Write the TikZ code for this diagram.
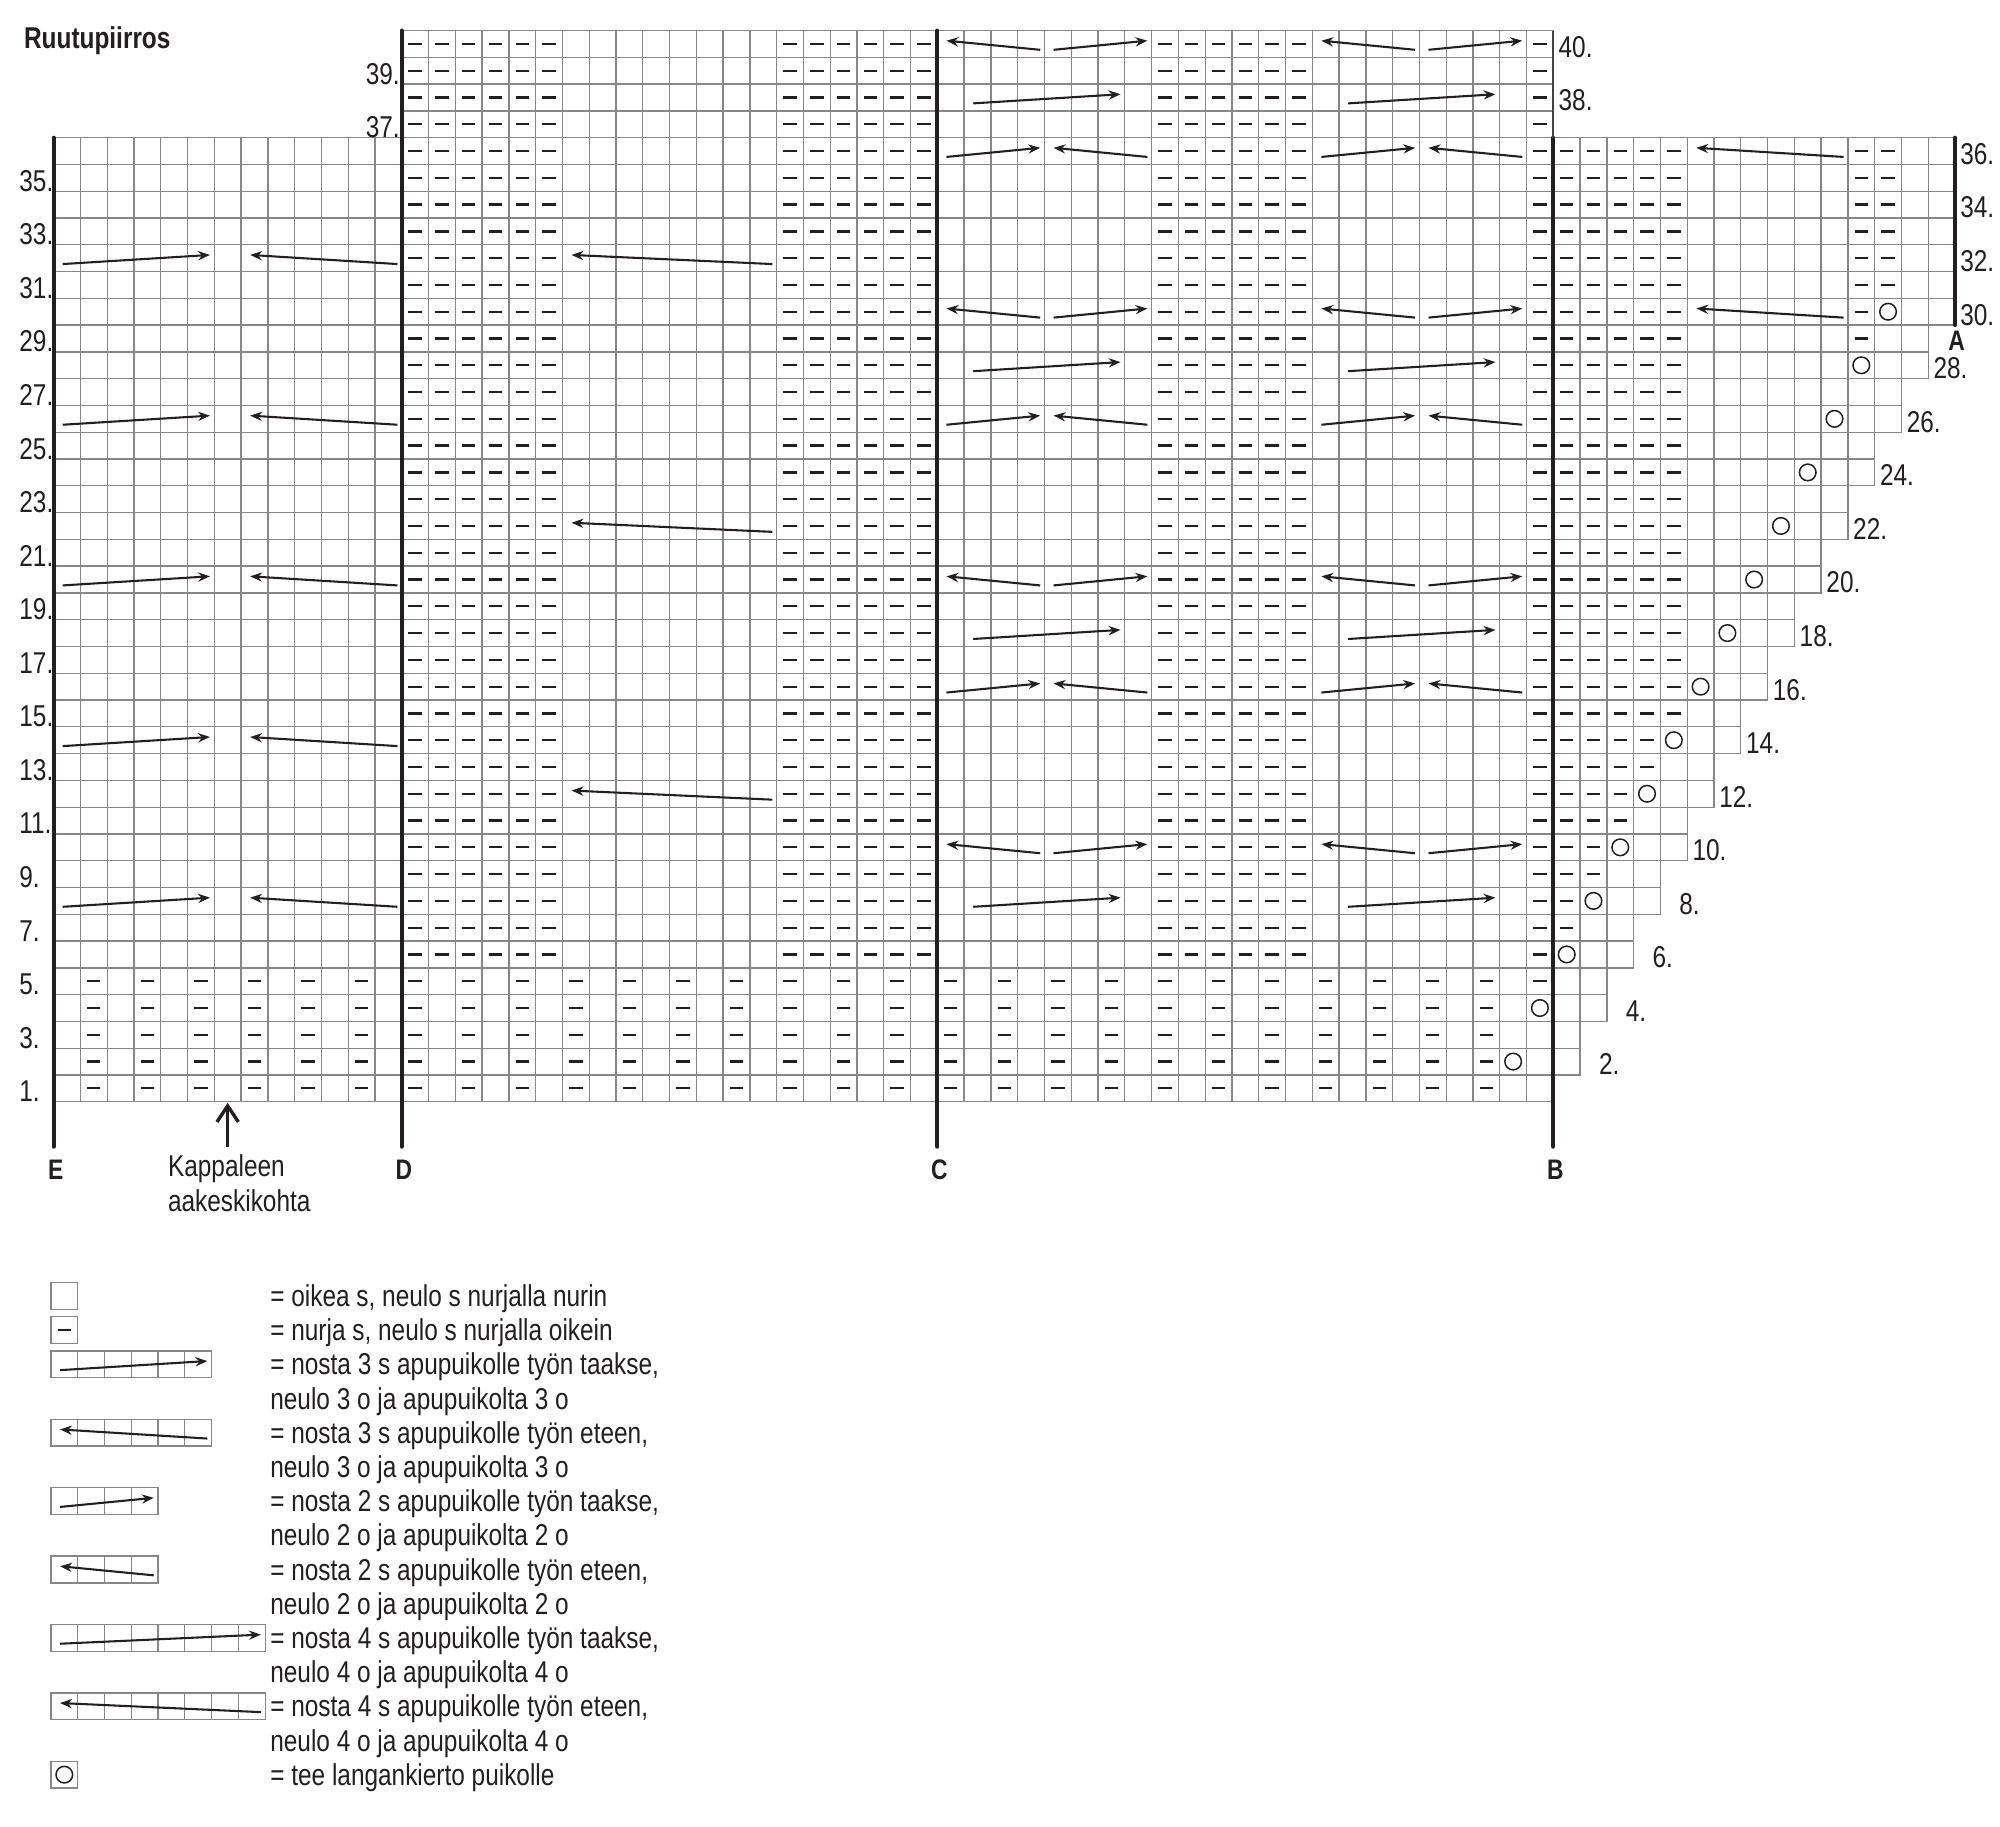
\documentclass[tikz,border=0pt]{standalone}
\usepackage{fontspec}
\setmainfont{Liberation Sans}[FakeStretch=0.81]
\usetikzlibrary{arrows.meta}

\definecolor{gridgray}{RGB}{135,135,135}
\definecolor{inkdark}{RGB}{35,31,32}

% one cell = 0.5cm, cell (c,r) has its centre at ((c-0.5)/2,(r-0.5)/2)
\newcommand{\purlmark}[2]{\draw[purl] ({((#1)-0.5)*0.5-0.125},{((#2)-0.5)*0.5}) -- ++(0.25,0);}
\newcommand{\yomark}[2]{\draw[yarnover] ({((#1)-0.5)*0.5},{((#2)-0.5)*0.5}) circle[radius=0.155];}
\newcommand{\backcable}[3]{\draw[cable] ({((#1)-1)*0.5+0.17},{((#3)-0.5)*0.5-0.11}) -- ({(#2)*0.5-0.08},{((#3)-0.5)*0.5+0.06});}
\newcommand{\frontcable}[3]{\draw[cable] ({(#2)*0.5-0.08},{((#3)-0.5)*0.5-0.11}) -- ({((#1)-1)*0.5+0.17},{((#3)-0.5)*0.5+0.06});}

\begin{document}
\begin{tikzpicture}[x=1cm, y=1cm, >=Stealth]

  % ---------- Styling ----------
  \tikzset{
    gridline/.style={draw=gridgray, line width=0.7pt},
    sectionline/.style={draw=inkdark, line width=2.1pt, line cap=round},
    purl/.style={draw=inkdark, line width=1.2pt},
    yarnover/.style={draw=inkdark, line width=0.8pt},
    cable/.style={draw=inkdark, line width=1.1pt, -{Stealth[length=0.22cm, width=0.17cm]}},
    pointer/.style={draw=inkdark, line width=1.8pt, -{Straight Barb[length=0.3cm, width=0.4cm]}},
    rowlabel/.style={font=\fontsize{16}{19}\selectfont, inner sep=0pt, text=inkdark},
    letterlabel/.style={font=\fontsize{15}{18}\selectfont\bfseries, inner sep=0pt, text=inkdark, anchor=base},
    legendtext/.style={font=\fontsize{16}{19}\selectfont, inner sep=0pt, text=inkdark, anchor=base west}
  }

  \fill[white] (-1.0007,-13.523) rectangle (36.340,20.570);
  \useasboundingbox (-1.0007,-13.523) rectangle (36.340,20.570);

  % ---------- Title ----------
  \node[legendtext, font=\fontsize{16}{19}\selectfont\bfseries] (title) at (-0.558,19.668) {Ruutupiirros};

  % ---------- Grid ----------
  \draw[gridline, step=0.5] (0,0) grid (6.5,18);
  \draw[gridline, step=0.5] (6.5,0) grid (28,20);
  \draw[gridline] (0,0) rectangle (6.5,18);
  \draw[gridline] (6.5,0) rectangle (28,20);
  % stepped edge right of B
  \foreach \k in {1,...,15} {
    \draw[gridline, step=0.5] ({27.5+0.5*\k},{\k-0.5}) grid ({28+0.5*\k},18);
    \draw[gridline] ({27.5+0.5*\k},{\k-0.5}) rectangle ({28+0.5*\k},18);
  }

  % ---------- Purl stitches ----------
  % rib, rows 1-5
  \foreach \r in {1,...,5} {
    \pgfmathtruncatemacro{\lastcol}{53+floor(\r/2)+mod(\r,2)}
    \foreach \cc in {2,4,...,56} {
      \ifnum\cc>\lastcol\relax\else\purlmark{\cc}{\r}\fi
    }
  }
  % purl panels, rows 6-40
  \foreach \r in {6,...,40} {
    \pgfmathtruncatemacro{\rowend}{\r>36 ? 56 : 71}
    \pgfmathtruncatemacro{\lastcol}{min(53+floor(\r/2)+mod(\r,2),\rowend)}
    \foreach \cc in {14,15,16,17,18,19,28,29,30,31,32,33,42,43,44,45,46,47,56,57,58,59,60,61,68,69} {
      \ifnum\cc>\lastcol\relax\else\purlmark{\cc}{\r}\fi
    }
  }

  % ---------- Yarn overs ----------
  \foreach \k in {1,...,15} {
    \yomark{54+\k}{2*\k}
  }

  % ---------- Cables ----------
  \foreach \r in {8,14,20,26,32} {
    \backcable{1}{6}{\r}
    \frontcable{8}{13}{\r}
  }
  \foreach \r in {12,22,32} {
    \frontcable{20}{27}{\r}
  }
  \foreach \s in {34,48} {
    \foreach \r in {10,20,30,40} {
      \frontcable{\s}{\s+3}{\r}
      \backcable{\s+4}{\s+7}{\r}
    }
    \foreach \r in {8,18,28,38} {
      \backcable{\s+1}{\s+6}{\r}
    }
    \foreach \r in {16,26,36} {
      \backcable{\s}{\s+3}{\r}
      \frontcable{\s+4}{\s+7}{\r}
    }
  }
  \foreach \r in {30,36} {
    \frontcable{62}{67}{\r}
  }

  % ---------- Section lines ----------
  \foreach \name/\x/\top in {E/0/18, D/6.5/20, C/16.5/20, B/28/18} {
    \draw[sectionline] (\x,-0.84) coordinate (\name bot) -- (\x,\top) coordinate (\name top);
    \node[letterlabel] (\name lbl) at (\x+0.04,-1.447) {\name};
  }
  \draw[draw=inkdark!85, line width=1.1pt] (Btop) -- (28,20);
  \draw[sectionline] (35.5,18) coordinate (Atop) -- (35.5,14.5) coordinate (Abot);
  \node[letterlabel] (Albl) at (35.53,14.035) {A};

  % ---------- Row numbers ----------
  \foreach \r in {1,3,...,35} {
    \node[rowlabel, anchor=base west] (row\r) at (-0.646,{(\r-1)*0.5}) {\r.};
  }
  \foreach \r in {37,39} {
    \node[rowlabel, anchor=base east] (row\r) at (6.47,{(\r-1)*0.5}) {\r.};
  }
  \foreach \r in {2,4,...,36} {
    \pgfmathsetmacro{\redge}{min(56+\r/2,71)*0.5}
    \node[rowlabel, anchor=base east] (row\r) at (\redge+0.74,{(\r-1)*0.5}) {\r.};
  }
  \foreach \r in {38,40} {
    \node[rowlabel, anchor=base east] (row\r) at (28.74,{(\r-1)*0.5}) {\r.};
  }

  % ---------- Centre marker ----------
  \coordinate (midtail) at (3.25,-0.84);
  \coordinate (midtip) at (3.25,-0.02);
  \draw[pointer] (midtail) -- (midtip);
  \node[legendtext] (kap1) at (2.13,-1.40) {Kappaleen};
  \node[legendtext] (kap2) at (2.13,-2.05) {aakeskikohta};

  % ---------- Legend ----------
  \def\legstep{0.6385}
  \begin{scope}[shift={(-0.05,{-3.824-0*\legstep-0.05})}]
    \draw[gridline] (0,0) rectangle (0.5,0.5);
  \end{scope}
  \begin{scope}[shift={(-0.05,{-3.824-1*\legstep-0.05})}]
    \draw[gridline] (0,0) rectangle (0.5,0.5);
    \purlmark{1}{1}
  \end{scope}
  \begin{scope}[shift={(-0.05,{-3.824-2*\legstep-0.05})}]
    \draw[gridline, step=0.5] (0,0) grid (3,0.5);
    \draw[gridline] (0,0) rectangle (3,0.5);
    \backcable{1}{6}{1}
  \end{scope}
  \begin{scope}[shift={(-0.05,{-3.824-4*\legstep-0.05})}]
    \draw[gridline, step=0.5] (0,0) grid (3,0.5);
    \draw[gridline] (0,0) rectangle (3,0.5);
    \frontcable{1}{6}{1}
  \end{scope}
  \begin{scope}[shift={(-0.05,{-3.824-6*\legstep-0.05})}]
    \draw[gridline, step=0.5] (0,0) grid (2,0.5);
    \draw[gridline] (0,0) rectangle (2,0.5);
    \backcable{1}{4}{1}
  \end{scope}
  \begin{scope}[shift={(-0.05,{-3.824-8*\legstep-0.05})}]
    \draw[gridline, step=0.5] (0,0) grid (2,0.5);
    \draw[gridline] (0,0) rectangle (2,0.5);
    \frontcable{1}{4}{1}
  \end{scope}
  \begin{scope}[shift={(-0.05,{-3.824-10*\legstep-0.05})}]
    \draw[gridline, step=0.5] (0,0) grid (4,0.5);
    \draw[gridline] (0,0) rectangle (4,0.5);
    \backcable{1}{8}{1}
  \end{scope}
  \begin{scope}[shift={(-0.05,{-3.824-12*\legstep-0.05})}]
    \draw[gridline, step=0.5] (0,0) grid (4,0.5);
    \draw[gridline] (0,0) rectangle (4,0.5);
    \frontcable{1}{8}{1}
  \end{scope}
  \begin{scope}[shift={(-0.05,{-3.824-14*\legstep-0.05})}]
    \draw[gridline] (0,0) rectangle (0.5,0.5);
    \yomark{1}{1}
  \end{scope}

  \node[legendtext] (leg0) at (4.04,{-3.824-0*\legstep}) {= oikea s, neulo s nurjalla nurin};
  \node[legendtext] (leg1) at (4.04,{-3.824-1*\legstep}) {= nurja s, neulo s nurjalla oikein};
  \node[legendtext] (leg2) at (4.04,{-3.824-2*\legstep}) {= nosta 3 s apupuikolle työn taakse,};
  \node[legendtext] (leg3) at (4.04,{-3.824-3*\legstep}) {neulo 3 o ja apupuikolta 3 o};
  \node[legendtext] (leg4) at (4.04,{-3.824-4*\legstep}) {= nosta 3 s apupuikolle työn eteen,};
  \node[legendtext] (leg5) at (4.04,{-3.824-5*\legstep}) {neulo 3 o ja apupuikolta 3 o};
  \node[legendtext] (leg6) at (4.04,{-3.824-6*\legstep}) {= nosta 2 s apupuikolle työn taakse,};
  \node[legendtext] (leg7) at (4.04,{-3.824-7*\legstep}) {neulo 2 o ja apupuikolta 2 o};
  \node[legendtext] (leg8) at (4.04,{-3.824-8*\legstep}) {= nosta 2 s apupuikolle työn eteen,};
  \node[legendtext] (leg9) at (4.04,{-3.824-9*\legstep}) {neulo 2 o ja apupuikolta 2 o};
  \node[legendtext] (leg10) at (4.04,{-3.824-10*\legstep}) {= nosta 4 s apupuikolle työn taakse,};
  \node[legendtext] (leg11) at (4.04,{-3.824-11*\legstep}) {neulo 4 o ja apupuikolta 4 o};
  \node[legendtext] (leg12) at (4.04,{-3.824-12*\legstep}) {= nosta 4 s apupuikolle työn eteen,};
  \node[legendtext] (leg13) at (4.04,{-3.824-13*\legstep}) {neulo 4 o ja apupuikolta 4 o};
  \node[legendtext] (leg14) at (4.04,{-3.824-14*\legstep}) {= tee langankierto puikolle};

\end{tikzpicture}
\end{document}
